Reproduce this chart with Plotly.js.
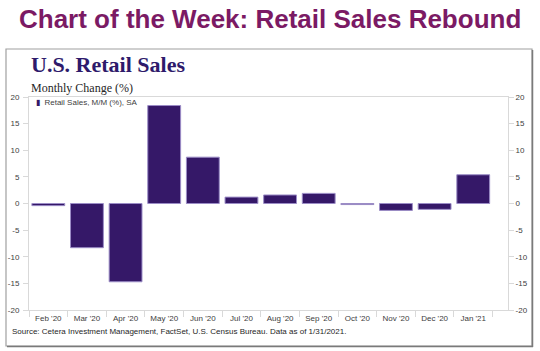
<!DOCTYPE html>
<html><head><meta charset="utf-8">
<script src="https://cdn.plot.ly/plotly-3.0.1.min.js"></script>
<style>html,body{margin:0;padding:0;background:#fff}</style>
</head><body><div id="chart" style="width:540px;height:351px"></div>
<script>
const months = ["Feb '20","Mar '20","Apr '20","May '20","Jun '20","Jul '20","Aug '20","Sep '20","Oct '20","Nov '20","Dec '20","Jan '21"];
const retailMoM = [-0.4, -8.3, -14.7, 18.4, 8.7, 1.2, 1.6, 1.9, -0.2, -1.3, -1.1, 5.4];
const yTickVals = [-20, -15, -10, -5, 0, 5, 10, 15, 20];
const yTickText = ["-20", "-15", "-10", "-5", "0", "5", "10", "15", "20"];
const seriesName = "Retail Sales, M/M (%), SA";

const W = 540, H = 351;
const M = {l: 29, r: 32, t: 97, b: 41};
const PW = W - M.l - M.r, PH = H - M.t - M.b;
const px = v => (v - M.l) / PW;
const py = v => (H - M.b - v) / PH;

const purple = '#351868';
const axisGray = '#d9d9d9';
const tickFont = {family: 'Liberation Sans, Arial, sans-serif', size: 8, color: '#404040'};

const traces = [
  {type: 'bar', x: months, y: retailMoM, name: seriesName, showlegend: false,
   marker: {color: purple, line: {color: '#9b8cc6', width: 1}}, hoverinfo: 'skip'},
  {type: 'scatter', mode: 'none', x: months, y: retailMoM, yaxis: 'y2', showlegend: false, hoverinfo: 'skip'}
];

const layout = {
  width: W, height: H,
  margin: M,
  paper_bgcolor: '#fff', plot_bgcolor: '#fff',
  bargap: 0.15,
  showlegend: false,
  xaxis: {type: 'category', range: [-0.5, 11.9], tickson: 'boundaries', ticks: 'outside', ticklen: 6,
    tickcolor: axisGray, showline: true, linecolor: axisGray, linewidth: 1, mirror: true,
    showgrid: false, zeroline: false, tickfont: tickFont, fixedrange: true},
  yaxis: {range: [-20, 20], tickmode: 'array', tickvals: yTickVals, ticktext: yTickText,
    ticks: 'outside', ticklen: 5, tickcolor: axisGray, showline: true, linecolor: axisGray,
    showgrid: false, zeroline: false, tickfont: tickFont, ticklabelstandoff: 2},
  yaxis2: {range: [-20, 20], overlaying: 'y', side: 'right', tickmode: 'array', tickvals: yTickVals, ticktext: yTickText,
    ticks: 'outside', ticklen: 5, tickcolor: axisGray, showline: true, linecolor: axisGray,
    showgrid: false, zeroline: false, tickfont: tickFont},
  shapes: [
    {type: 'rect', xref: 'paper', yref: 'paper', x0: px(6), x1: px(532), y0: py(346), y1: py(49),
     line: {color: '#a0a0a0', width: 1.2}, layer: 'below'},
    {type: 'line', xref: 'paper', yref: 'paper', x0: px(532.5), x1: px(532.5), y0: py(347), y1: py(50),
     line: {color: '#7a7a7a', width: 1.5}},
    {type: 'line', xref: 'paper', yref: 'paper', x0: px(7), x1: px(533), y0: py(346.6), y1: py(346.6),
     line: {color: '#7a7a7a', width: 1.5}}
  ],
  annotations: [
    {text: '<b>Chart of the Week: Retail Sales Rebound</b>', xref: 'paper', yref: 'paper',
     x: px(270), y: py(19), xanchor: 'center', yanchor: 'middle', showarrow: false,
     font: {family: 'Liberation Sans, Arial, sans-serif', size: 26, color: '#7b1a64'}},
    {text: '<b>U.S. Retail Sales</b>', xref: 'paper', yref: 'paper',
     x: px(29), y: py(64), xanchor: 'left', yanchor: 'middle', showarrow: false,
     font: {family: 'Liberation Serif, serif', size: 22, color: '#2e1a6b'}},
    {text: 'Monthly Change (%)', xref: 'paper', yref: 'paper',
     x: px(29), y: py(88), xanchor: 'left', yanchor: 'middle', showarrow: false,
     font: {family: 'Liberation Serif, serif', size: 12, color: '#262626'}},
    {text: '<span style="color:' + purple + '">▮</span>  ' + seriesName, xref: 'paper', yref: 'paper',
     x: px(34), y: py(103), xanchor: 'left', yanchor: 'middle', showarrow: false,
     font: {family: 'Liberation Sans, Arial, sans-serif', size: 8, color: '#404040'}},
    {text: 'Source: Cetera Investment Management, FactSet, U.S. Census Bureau. Data as of 1/31/2021.', xref: 'paper', yref: 'paper',
     x: px(10), y: py(331), xanchor: 'left', yanchor: 'middle', showarrow: false,
     font: {family: 'Liberation Sans, Arial, sans-serif', size: 8, color: '#262626'}}
  ]
};

Plotly.newPlot('chart', traces, layout, {displayModeBar: false, staticPlot: true});
</script></body></html>
